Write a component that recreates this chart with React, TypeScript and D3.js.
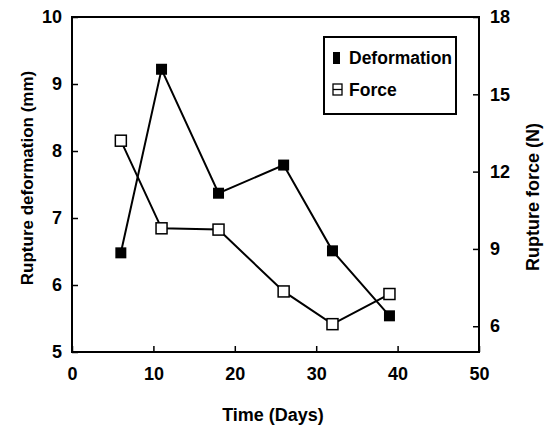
import React, { useRef, useEffect } from "react";
import * as d3 from "d3";

const days = [6, 11, 18, 26, 32, 39];
const deformation = [6.48, 9.22, 7.37, 7.79, 6.51, 5.54];
const force = [13.2, 9.8, 9.75, 7.35, 6.08, 7.25];
const xTicks = [0, 10, 20, 30, 40, 50];
const leftTicks = [5, 6, 7, 8, 9, 10];
const rightTicks = [6, 9, 12, 15, 18];

const W = 547;
const H = 426;
const margin = { top: 17, right: 68, bottom: 74, left: 72 };

const App = () => {
  const ref = useRef<SVGSVGElement>(null);

  useEffect(() => {
    const svg = d3.select(ref.current);
    svg.selectAll("*").remove();
    const font = "'Liberation Sans', Arial, sans-serif";

    const x = d3.scaleLinear().domain([0, 50]).range([margin.left, W - margin.right]);
    const yL = d3.scaleLinear().domain([5, 10]).range([H - margin.bottom, margin.top]);
    const yR = d3.scaleLinear().domain([5, 18]).range([H - margin.bottom, margin.top]);

    // frame
    svg
      .append("rect")
      .attr("x", margin.left)
      .attr("y", margin.top)
      .attr("width", W - margin.left - margin.right)
      .attr("height", H - margin.top - margin.bottom)
      .attr("fill", "none")
      .attr("stroke", "#000")
      .attr("stroke-width", 2);

    const styleAxis = (g) => {
      g.select(".domain").remove();
      g.selectAll("line").attr("stroke", "#000").attr("stroke-width", 1.5);
      g.selectAll("text")
        .attr("fill", "#000")
        .style("font-family", font)
        .style("font-size", "18px")
        .style("font-weight", "bold");
    };

    // ticks point inward on all three axes
    svg
      .append("g")
      .attr("transform", `translate(0,${H - margin.bottom})`)
      .call(d3.axisBottom(x).tickValues(xTicks).tickSize(-6).tickPadding(15).tickFormat(d3.format("d")))
      .call(styleAxis);

    svg
      .append("g")
      .attr("transform", `translate(${margin.left},0)`)
      .call(d3.axisLeft(yL).tickValues(leftTicks).tickSize(-6).tickPadding(10).tickFormat(d3.format("d")))
      .call(styleAxis);

    svg
      .append("g")
      .attr("transform", `translate(${W - margin.right},0)`)
      .call(d3.axisRight(yR).tickValues(rightTicks).tickSize(-6).tickPadding(11).tickFormat(d3.format("d")))
      .call(styleAxis);

    // axis titles
    const title = (txt, tx, ty, rot, size) =>
      svg
        .append("text")
        .attr("transform", `translate(${tx},${ty}) rotate(${rot})`)
        .attr("text-anchor", "middle")
        .style("font-family", font)
        .style("font-size", size)
        .style("font-weight", "bold")
        .text(txt);
    title("Time (Days)", 273, 421, 0, "18px");
    title("Rupture deformation (mm)", 33, 178, -90, "17px");
    title("Rupture force (N)", 539, 197, -90, "18px");

    const defPts = days.map((d, i) => [x(d), yL(deformation[i])]);
    const forPts = days.map((d, i) => [x(d), yR(force[i])]);
    const line = d3.line();

    svg.append("path").attr("d", line(defPts)).attr("fill", "none").attr("stroke", "#000").attr("stroke-width", 2);
    svg.append("path").attr("d", line(forPts)).attr("fill", "none").attr("stroke", "#000").attr("stroke-width", 2);

    const s = 11;
    svg
      .selectAll(".def")
      .data(defPts)
      .join("rect")
      .attr("x", (d) => d[0] - s / 2)
      .attr("y", (d) => d[1] - s / 2)
      .attr("width", s)
      .attr("height", s)
      .attr("fill", "#000");

    svg
      .selectAll(".for")
      .data(forPts)
      .join("rect")
      .attr("x", (d) => d[0] - s / 2)
      .attr("y", (d) => d[1] - s / 2)
      .attr("width", s)
      .attr("height", s)
      .attr("fill", "#fff")
      .attr("stroke", "#000")
      .attr("stroke-width", 1.5);

    // legend
    const lg = svg.append("g");
    lg.append("rect")
      .attr("x", 324)
      .attr("y", 37)
      .attr("width", 132)
      .attr("height", 77)
      .attr("fill", "#fff")
      .attr("stroke", "#000")
      .attr("stroke-width", 2);
    lg.append("rect").attr("x", 333).attr("y", 52).attr("width", 7).attr("height", 12).attr("fill", "#000");
    lg.append("rect")
      .attr("x", 333)
      .attr("y", 84)
      .attr("width", 9)
      .attr("height", 11)
      .attr("fill", "#fff")
      .attr("stroke", "#000")
      .attr("stroke-width", 1.3);
    lg.append("line").attr("x1", 333).attr("x2", 342).attr("y1", 89.5).attr("y2", 89.5).attr("stroke", "#000").attr("stroke-width", 1.3);
    [["Deformation", 64], ["Force", 96]].forEach(([t, ty]) =>
      lg
        .append("text")
        .attr("x", 349)
        .attr("y", ty)
        .style("font-family", font)
        .style("font-size", "17.5px")
        .style("font-weight", "bold")
        .text(t)
    );
  }, []);

  return (
    <svg
      ref={ref}
      width={W}
      height={H}
      style={{ position: "absolute", left: 0, top: 0, background: "#fff" }}
    />
  );
};

export default App;
